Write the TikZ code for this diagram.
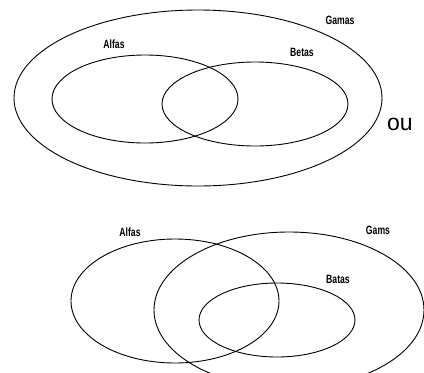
\documentclass[tikz,border=0pt]{standalone}
\usepackage{fontspec}
\setmainfont{Liberation Sans}
\begin{document}
\begin{tikzpicture}[x=1pt,y=-1pt,
  set/.style={draw=black,line width=0.9pt},
  lbl/.style={inner sep=0pt,font=\bfseries\fontsize{12}{12}\selectfont,xscale=0.72},
  big/.style={inner sep=0pt,font=\fontsize{23}{23}\selectfont}]
\useasboundingbox (0,0) rectangle (424,373);
\clip (0,0) rectangle (424,373);
% top diagram
\draw[set] (198,98) ellipse [x radius=184,y radius=88];
\draw[set] (145,99) ellipse [x radius=93,y radius=44];
\draw[set] (255,104) ellipse [x radius=93,y radius=42];
\node[lbl] (alfa1) at (114,44) {Alfas};
\node[lbl] (beta1) at (302,52) {Betas};
\node[lbl] (gama1) at (340,20) {Gamas};
\node[big] (ou) at (400,124) {ou};
% bottom diagram
\draw[set] (175,301) ellipse [x radius=104,y radius=62];
\draw[set] (289,310) ellipse [x radius=135,y radius=78];
\draw[set] (277,320) ellipse [x radius=78,y radius=37];
\node[lbl] (alfa2) at (130,232) {Alfas};
\node[lbl] (gama2) at (378,230) {Gams};
\node[lbl] (beta2) at (338,279) {Batas};
\end{tikzpicture}
\end{document}
